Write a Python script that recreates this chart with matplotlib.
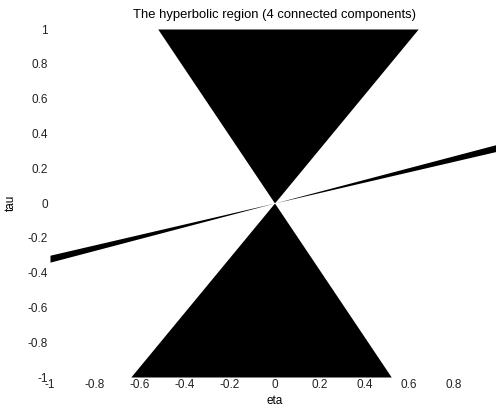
import numpy as np
import matplotlib.pyplot as plt

# boundary slopes
cone_slopes = [-0.52, 0.64]      # eta/tau on the two edges of the double cone
sliver_slopes = [0.30, 0.34]     # tau/eta on the two edges of the thin wedge
ticks = [-1, -0.8, -0.6, -0.4, -0.2, 0, 0.2, 0.4, 0.6, 0.8, 1]
tick_labels = ['-1', '-0.8', '-0.6', '-0.4', '-0.2', '0', '0.2', '0.4', '0.6', '0.8', '1']

plt.rcParams['font.family'] = ['Liberation Sans', 'DejaVu Sans']
fig = plt.figure(figsize=(4.96, 4.15), dpi=100)
ax = fig.add_axes([50/496, 38/415, 449/496, 348/415])

tau = np.linspace(-1, 1, 401)
ax.fill_betweenx(tau, cone_slopes[0]*tau, cone_slopes[1]*tau, color='black', lw=0)
eta = np.linspace(-1, 1, 401)
ax.fill_between(eta, sliver_slopes[0]*eta, sliver_slopes[1]*eta, color='black', lw=0)

ax.set_xlim(-1, 1)
ax.set_ylim(-1, 1)
ax.set_xticks(ticks)
ax.set_xticklabels(tick_labels)
ax.set_yticks(ticks)
ax.set_yticklabels(tick_labels)
ax.tick_params(length=0, labelsize=8.5, pad=1.5, colors='#222222')
for s in ax.spines.values():
    s.set_visible(False)
ax.set_title('The hyperbolic region (4 connected components)', fontsize=9.4, pad=8)
ax.set_xlabel('eta', fontsize=8.5, labelpad=3)
ax.set_ylabel('tau', fontsize=8.5, labelpad=8)

fig.savefig('out.png', dpi=100)
